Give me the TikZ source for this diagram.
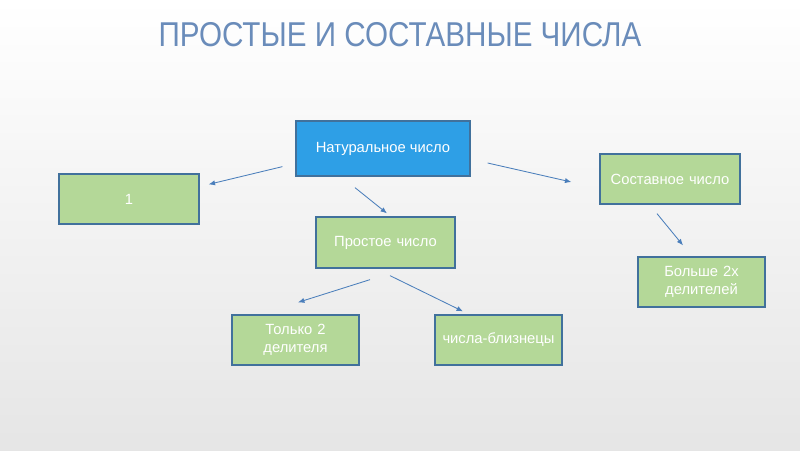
\documentclass[tikz,border=0pt]{standalone}
\usepackage{fontspec}
\setmainfont{Liberation Sans}
\newfontfamily\titlefont[FakeStretch=0.86]{Liberation Sans}
\usetikzlibrary{arrows.meta,calc}
\definecolor{titleBlue}{HTML}{6A8CBA}
\definecolor{boxGreen}{HTML}{B4D898}
\definecolor{boxBlue}{HTML}{2E9FE6}
\definecolor{edgeBlue}{HTML}{41719C}
\definecolor{arrowBlue}{HTML}{4A7EBB}

\begin{document}
\begin{tikzpicture}[
  x=0.025cm, y=-0.025cm,
  font=\fontsize{10.5}{13}\selectfont,
  >={Latex[length=1.6mm,width=1.3mm]},
  greenbox/.style={
    rectangle, draw=edgeBlue, fill=boxGreen, line width=0.9pt,
    text=white, minimum width=3.5cm, minimum height=1.25cm,
    text width=3.2cm, align=center, inner sep=2pt
  },
  smallbox/.style={greenbox, minimum width=3.175cm, text width=2.9cm},
  bluebox/.style={
    rectangle, draw=edgeBlue, fill=boxBlue, line width=0.9pt,
    text=white, minimum width=4.35cm, minimum height=1.375cm,
    align=center, inner sep=2pt
  },
  flow/.style={->,line width=0.6pt,draw=arrowBlue},
]

% slide background, light grey towards the bottom
\shade[top color=white, bottom color=black!10] (0,0) rectangle (800,450);
\useasboundingbox (0,0) rectangle (800,450);

\node[text=titleBlue, font=\titlefont\fontsize{24.5}{30}\selectfont] (title) at (400,35)
  {ПРОСТЫЕ И СОСТАВНЫЕ ЧИСЛА};

\node[bluebox] (nat) at (383,148.5) {Натуральное число};
\node[greenbox] (one) at (129,199) {1};
\node[greenbox, minimum width=3.475cm, minimum height=1.275cm] (prime) at (385.5,242.5)
  {Простое число};
\node[greenbox] (comp) at (670,179) {Составное число};
\node[smallbox] (more) at (701.5,282) {Больше 2х\\делителей};
\node[smallbox] (two) at (295.5,340) {Только 2\\делителя};
\node[smallbox] (twins) at (498.5,340) {числа-близнецы};

% arrows float free of the boxes
\draw[flow] ([shift={(-13,-10)}]nat.south west) -- ([shift={(9,11)}]one.north east);
\draw[flow] ([shift={(-28,11)}]nat.south) -- ([shift={(1.5,-3)}]prime.north);
\draw[flow] ([shift={(17,14.5)}]nat.east) -- ([shift={(-28,3)}]comp.west);
\draw[flow] ([shift={(-13,9)}]comp.south) -- ([shift={(-18.5,-11)}]more.north);
\draw[flow] ([shift={(-15.5,11)}]prime.south) -- ([shift={(2.5,-12)}]two.north);
\draw[flow] ([shift={(4.5,7)}]prime.south) -- ([shift={(-35.5,-3)}]twins.north);

\end{tikzpicture}
\end{document}
